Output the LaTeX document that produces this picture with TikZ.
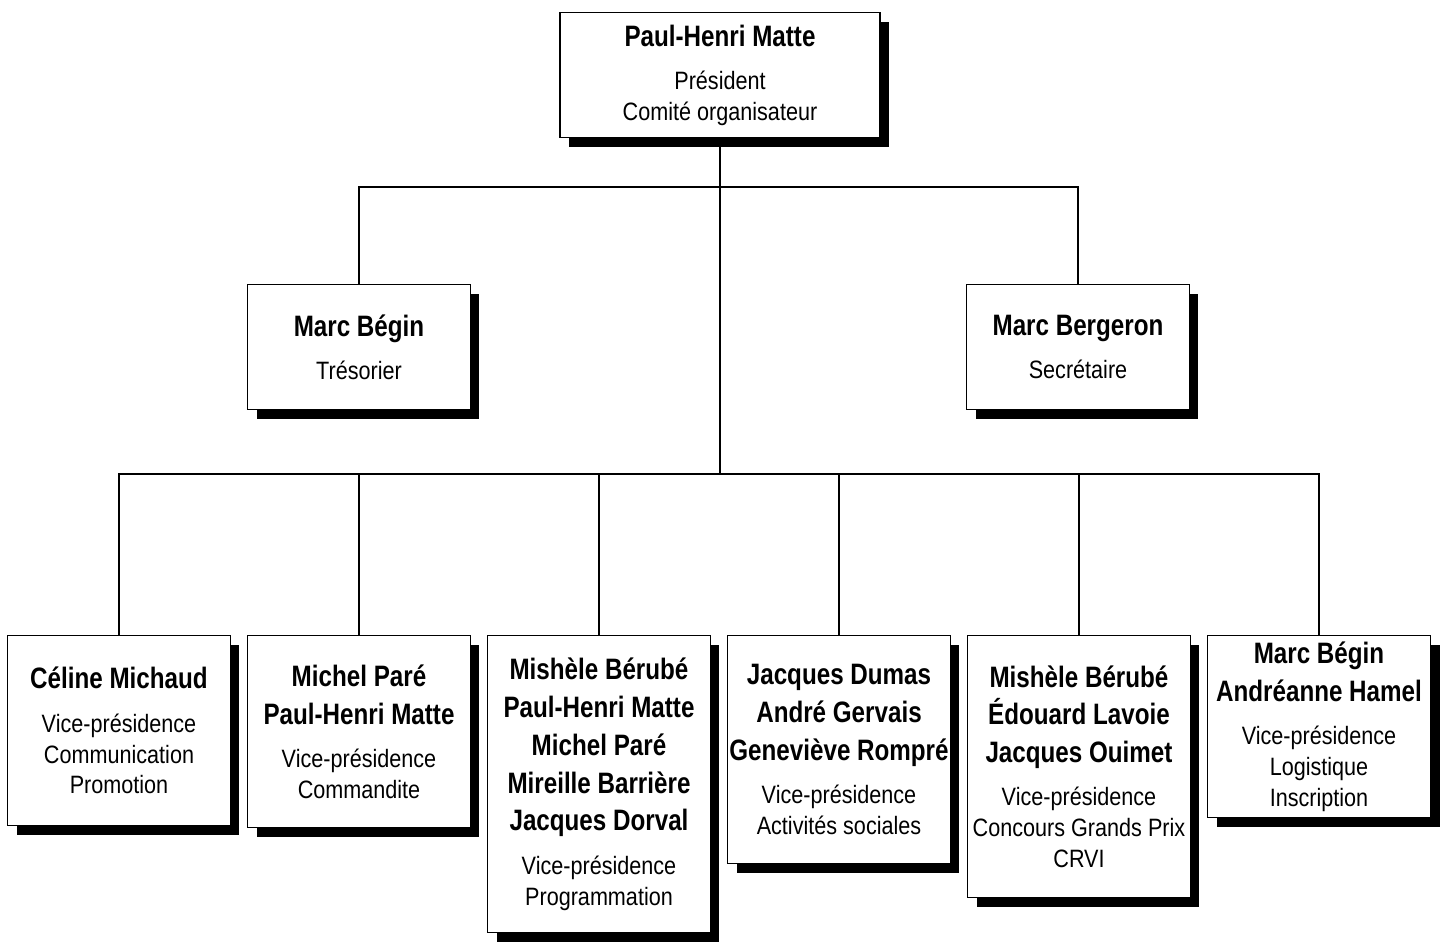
\documentclass[tikz,border=0pt]{standalone}
\usepackage{fontspec}
\setmainfont{Liberation Sans}[FakeStretch=0.86, BoldFeatures={FakeStretch=0.82}]
\usetikzlibrary{shadows}

\newcommand{\noms}[1]{{\fontsize{16.8}{21.5}\selectfont\bfseries #1\par}\vspace{7pt}}

\tikzset{
  boite/.style={draw, line width=0.8pt, fill=white, inner ysep=0pt, inner xsep=-0.17cm,
    align=flush center, text width=4.8cm, minimum height=#1,
    font=\fontsize{14.3}{17.6}\selectfont,
    drop shadow={shadow xshift=0.18cm, shadow yshift=-0.18cm, fill=black, opacity=1}},
  lien/.style={line width=0.8pt}
}

\begin{document}
\begin{tikzpicture}[x=0.02cm,y=-0.02cm]
 \useasboundingbox (0,0) rectangle (1442,943);
 \node[boite=2.5cm, text width=6.74cm, anchor=north] (pres) at (720,12)
   {\noms{Paul-Henri Matte}Président\\Comité organisateur};
 \node[boite=2.5cm, anchor=north] (tres) at (359,284) {\noms{Marc Bégin}Trésorier};
 \node[boite=2.5cm, anchor=north] (sec) at (1078,284) {\noms{Marc Bergeron}Secrétaire};
 \node[boite=3.8cm, anchor=north] (comm) at (119,635)
   {\noms{Céline Michaud}Vice-présidence\\Communication\\Promotion};
 \node[boite=3.84cm, anchor=north] (cmdt) at (359,635)
   {\noms{Michel Paré\\Paul-Henri Matte}Vice-présidence\\Commandite};
 \node[boite=5.94cm, anchor=north] (prog) at (599,635)
   {\noms{Mishèle Bérubé\\Paul-Henri Matte\\Michel Paré\\Mireille Barrière\\Jacques Dorval}Vice-présidence\\Programmation};
 \node[boite=4.56cm, anchor=north] (soc) at (839,635)
   {\noms{Jacques Dumas\\André Gervais\\Geneviève Rompré}Vice-présidence\\Activités sociales};
 \node[boite=5.24cm, anchor=north] (conc) at (1079,635)
   {\noms{Mishèle Bérubé\\Édouard Lavoie\\Jacques Ouimet}Vice-présidence\\Concours Grands Prix\\CRVI};
 \node[boite=3.64cm, anchor=north] (logi) at (1319,635)
   {\noms{Marc Bégin\\Andréanne Hamel}Vice-présidence\\Logistique\\Inscription};

 \coordinate (haut) at (720,187);
 \coordinate (bas) at (720,474);
 \draw[lien] (pres.south) -- (bas);
 \draw[lien] (tres.north) |- (haut) -| (sec.north);
 \draw[lien] (comm.north) |- (bas) -| (logi.north);
 \foreach \n in {cmdt,prog,soc,conc}
   \draw[lien] (\n.north) -- (\n.north |- bas);
\end{tikzpicture}
\end{document}
